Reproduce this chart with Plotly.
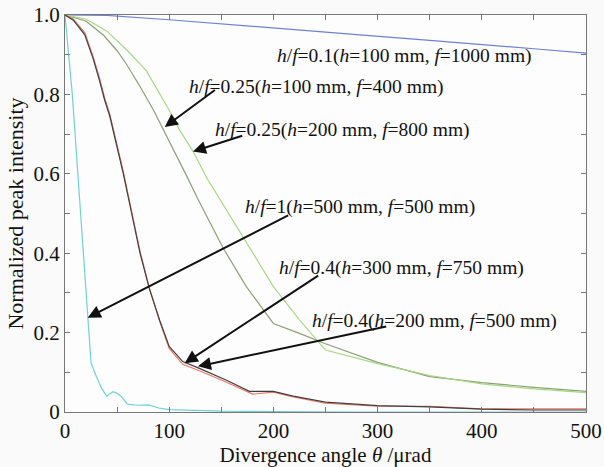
import plotly.graph_objects as go

# ---- data ----
blue_x = [0, 20, 40, 100, 200, 283, 350, 400, 450, 500]
blue_y = [1.0, 1.0, 0.999, 0.988, 0.968, 0.950, 0.936, 0.926, 0.915, 0.904]

cyan_x = [0, 3, 7, 11, 15, 19, 22, 25, 30, 35, 40, 46, 50, 54, 60, 70, 80, 90, 100, 150, 200, 280, 500]
cyan_y = [1.0, 0.92, 0.80, 0.65, 0.50, 0.35, 0.237, 0.123, 0.09, 0.06, 0.04, 0.051, 0.047, 0.039, 0.02,
          0.017, 0.018, 0.010, 0.006, 0.002, 0.001, 0.0, 0.0]

black_x = [0, 8, 19, 27, 33, 38, 43, 50, 56, 64, 72, 81, 91, 100, 113, 129, 155, 177, 190, 200, 219, 250,
           300, 350, 400, 450, 500]
black_y = [1.0, 0.987, 0.95, 0.89, 0.836, 0.786, 0.745, 0.67, 0.60, 0.50, 0.40, 0.31, 0.23, 0.165, 0.127,
           0.11, 0.08, 0.052, 0.053, 0.052, 0.04, 0.025, 0.016, 0.013, 0.007, 0.005, 0.005]

red_x = [0, 8, 19, 27, 33, 38, 43, 50, 56, 64, 72, 81, 91, 100, 113, 129, 155, 180, 200, 219, 250,
         300, 350, 400, 450, 500]
red_y = [1.0, 0.99, 0.955, 0.895, 0.842, 0.792, 0.75, 0.675, 0.605, 0.505, 0.405, 0.312, 0.228, 0.16, 0.12,
         0.104, 0.075, 0.045, 0.05, 0.038, 0.022, 0.015, 0.014, 0.008, 0.008, 0.008]

olive_x = [0, 20, 37, 50, 59, 72, 85, 94, 105, 116.5, 128, 136, 152, 174, 200, 225, 250, 300, 350, 400, 450, 500]
olive_y = [1.0, 0.985, 0.949, 0.91, 0.876, 0.82, 0.76, 0.714, 0.655, 0.596, 0.534, 0.494, 0.412, 0.316,
           0.223, 0.198, 0.172, 0.125, 0.089, 0.074, 0.062, 0.052]

green_x = [0, 20, 40, 60, 78, 91, 100, 110, 123, 136, 150, 174, 200, 225, 250, 300, 350, 400, 450, 500]
green_y = [1.0, 0.99, 0.96, 0.91, 0.86, 0.80, 0.76, 0.71, 0.656, 0.59, 0.53, 0.425, 0.316, 0.232, 0.156,
           0.122, 0.092, 0.071, 0.058, 0.049]

x_ticks = [0, 100, 200, 300, 400, 500]
x_tick_text = ["0", "100", "200", "300", "400", "500"]
y_ticks = [0, 0.2, 0.4, 0.6, 0.8, 1.0]
y_tick_text = ["0", "0.2", "0.4", "0.6", "0.8", "1.0"]

labels = [
    "<i>h</i>/<i>f</i>=0.1(<i>h</i>=100 mm, <i>f</i>=1000 mm)",
    "<i>h</i>/<i>f</i>=0.25(<i>h</i>=100 mm, <i>f</i>=400 mm)",
    "<i>h</i>/<i>f</i>=0.25(<i>h</i>=200 mm, <i>f</i>=800 mm)",
    "<i>h</i>/<i>f</i>=1(<i>h</i>=500 mm, <i>f</i>=500 mm)",
    "<i>h</i>/<i>f</i>=0.4(<i>h</i>=300 mm, <i>f</i>=750 mm)",
    "<i>h</i>/<i>f</i>=0.4(<i>h</i>=200 mm, <i>f</i>=500 mm)",
]
label_x = [202, 117.5, 142.5, 170.5, 203, 235]
label_y = [0.897, 0.819, 0.711, 0.517, 0.363, 0.230]

# arrows: tail (data coords) -> tip (data coords)
arrow_tail_x = [145.3, 171.5, 215.6, 244.4, 309.7]
arrow_tail_y = [0.814, 0.697, 0.497, 0.346, 0.216]
arrow_tip_x = [95.7, 122.8, 21.8, 114.9, 127.6]
arrow_tip_y = [0.718, 0.656, 0.2375, 0.123, 0.115]

FONT = "'Liberation Serif', 'DejaVu Serif', serif"

fig = go.Figure()
series = [
    (blue_x, blue_y, "#6f80d2"),
    (cyan_x, cyan_y, "#70d2d4"),
    (olive_x, olive_y, "#8e9f78"),
    (green_x, green_y, "#a6d884"),
    (red_x, red_y, "#f07563"),
    (black_x, black_y, "#404040"),
]
for xs, ys, c in series:
    fig.add_trace(go.Scatter(x=xs, y=ys, mode="lines", line=dict(color=c, width=1.2),
                             showlegend=False, hoverinfo="skip"))

annotations = []
for t, x, y in zip(labels, label_x, label_y):
    annotations.append(dict(x=x, y=y, xref="x", yref="y", text=t, showarrow=False,
                            xanchor="left", yanchor="middle",
                            font=dict(family=FONT, size=19.5, color="#111")))
for tx, ty, hx, hy in zip(arrow_tail_x, arrow_tail_y, arrow_tip_x, arrow_tip_y):
    annotations.append(dict(x=hx, y=hy, xref="x", yref="y", ax=tx, ay=ty, axref="x", ayref="y",
                            text="", showarrow=True, arrowhead=2, arrowsize=1.3, arrowwidth=2,
                            arrowcolor="#111", standoff=0, startstandoff=0))

fig.update_layout(
    width=604, height=467,
    margin=dict(l=65, r=18, t=15, b=55, autoexpand=False),
    paper_bgcolor="#fafafa", plot_bgcolor="#fdfdfd",
    font=dict(family=FONT, size=19, color="#111"),
    annotations=annotations,
    showlegend=False,
)
fig.update_xaxes(range=[0, 500], tickvals=x_ticks, ticktext=x_tick_text, automargin=False,
                 ticks="inside", ticklen=5, tickcolor="#777", showgrid=False, zeroline=False,
                 showline=True, linecolor="#777", linewidth=1, mirror="ticks",
                 minor=dict(dtick=50, ticks="inside", ticklen=5, tickcolor="#777"),
                 title=dict(text="Divergence angle <i>θ</i> /μrad", font=dict(family=FONT, size=21), standoff=2),
                 tickfont=dict(family=FONT, size=21))
fig.update_yaxes(range=[0, 1.0], tickvals=y_ticks, ticktext=y_tick_text, automargin=False,
                 ticks="inside", ticklen=5, tickcolor="#777", showgrid=False, zeroline=False,
                 showline=True, linecolor="#777", linewidth=1, mirror="ticks",
                 minor=dict(dtick=0.1, ticks="inside", ticklen=5, tickcolor="#777"),
                 title=dict(text="Normalized peak intensity", font=dict(family=FONT, size=22), standoff=3),
                 tickfont=dict(family=FONT, size=21))

fig.write_html("out.html", config={"displayModeBar": False, "staticPlot": True},
               post_script="document.body.style.margin='0';document.body.style.overflow='hidden';")
